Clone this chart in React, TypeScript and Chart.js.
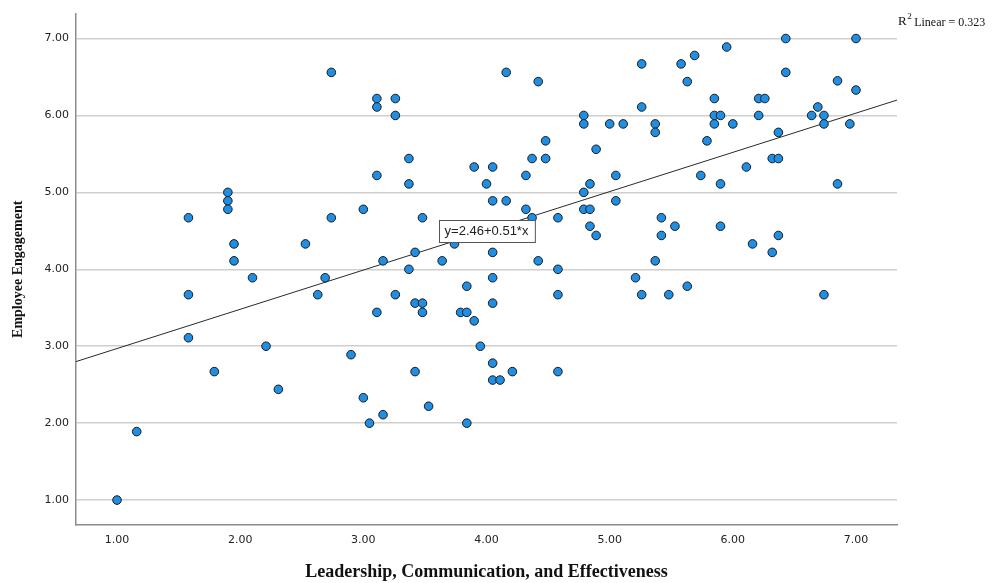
import React, { useEffect, useRef } from "react";
import { Chart, registerables } from "chart.js";

Chart.register(...registerables);

// Leadership, Communication, and Effectiveness (x) scores
const xValues: number[] = [
  1.0, 1.16, 1.58, 1.58, 1.58, 1.79, 1.9, 1.9, 1.9, 1.95,
  1.95, 2.1, 2.21, 2.31, 2.53, 2.63, 2.69, 2.74, 2.74, 2.9,
  3.0, 3.0, 3.05, 3.11, 3.11, 3.11, 3.11, 3.16, 3.16, 3.26,
  3.26, 3.26, 3.37, 3.37, 3.37, 3.42, 3.42, 3.42, 3.48, 3.48,
  3.48, 3.53, 3.64, 3.74, 3.79, 3.84, 3.84, 3.84, 3.9, 3.9,
  3.95, 4.0, 4.05, 4.05, 4.05, 4.05, 4.05, 4.05, 4.05, 4.11,
  4.16, 4.16, 4.21, 4.32, 4.32, 4.37, 4.37, 4.42, 4.42, 4.48,
  4.48, 4.58, 4.58, 4.58, 4.58, 4.79, 4.79, 4.79, 4.79, 4.84,
  4.84, 4.84, 4.89, 4.89, 5.0, 5.05, 5.05, 5.11, 5.21, 5.26,
  5.26, 5.26, 5.37, 5.37, 5.37, 5.42, 5.42, 5.48, 5.53, 5.58,
  5.63, 5.63, 5.69, 5.74, 5.79, 5.85, 5.85, 5.85, 5.9, 5.9,
  5.9, 5.95, 6.0, 6.11, 6.16, 6.21, 6.21, 6.26, 6.32, 6.32,
  6.37, 6.37, 6.37, 6.43, 6.43, 6.64, 6.69, 6.74, 6.74, 6.74,
  6.85, 6.85, 6.95, 7.0, 7.0,
];

// Employee Engagement (y) scores
const yValues: number[] = [
  1.0, 1.89, 4.67, 3.67, 3.11, 2.67, 5.0, 4.89, 4.78, 4.33,
  4.11, 3.89, 3.0, 2.44, 4.33, 3.67, 3.89, 6.56, 4.67, 2.89,
  4.78, 2.33, 2.0, 6.22, 6.11, 5.22, 3.44, 4.11, 2.11, 6.22,
  6.0, 3.67, 5.44, 5.11, 4.0, 4.22, 3.56, 2.67, 4.67, 3.56,
  3.44, 2.22, 4.11, 4.33, 3.44, 3.78, 3.44, 2.0, 5.33, 3.33,
  3.0, 5.11, 5.33, 4.89, 4.22, 3.89, 3.56, 2.78, 2.56, 2.56,
  6.56, 4.89, 2.67, 5.22, 4.78, 5.44, 4.67, 6.44, 4.11, 5.67,
  5.44, 4.67, 4.0, 3.67, 2.67, 6.0, 5.89, 5.0, 4.78, 5.11,
  4.78, 4.56, 5.56, 4.44, 5.89, 5.22, 4.89, 5.89, 3.89, 6.67,
  6.11, 3.67, 5.89, 5.78, 4.11, 4.67, 4.44, 3.67, 4.56, 6.67,
  6.44, 3.78, 6.78, 5.22, 5.67, 6.22, 6.0, 5.89, 6.0, 5.11,
  4.56, 6.89, 5.89, 5.33, 4.33, 6.22, 6.0, 6.22, 5.44, 4.22,
  5.78, 5.44, 4.44, 7.0, 6.56, 6.0, 6.11, 6.0, 5.89, 3.67,
  6.45, 5.11, 5.89, 7.0, 6.33,
];

const tickValues: number[] = [1, 2, 3, 4, 5, 6, 7];
const xAxisMin = 0.667;
const xAxisMax = 7.333;
const yAxisMin = 0.676;
const yAxisMax = 7.324;

const fitIntercept = 2.46;
const fitSlope = 0.51;
const fitLabel = "y=2.46+0.51*x";
const fitLabelAt = 4.0;
const r2Text = "0.323";

const xTitle = "Leadership, Communication, and Effectiveness";
const yTitle = "Employee Engagement";

export default function App() {
  const ref = useRef<HTMLCanvasElement | null>(null);

  useEffect(() => {
    const canvas = ref.current;
    if (!canvas) return;

    const points = xValues.map((x, i) => ({ x, y: yValues[i] }));
    const fitLine = [xAxisMin, xAxisMax].map((x) => ({ x, y: fitIntercept + fitSlope * x }));

    const annotations = {
      id: "fitAnnotations",
      afterDatasetsDraw(chart: any) {
        const { ctx, chartArea, scales } = chart;
        const xs = scales.x;
        const ys = scales.y;
        ctx.save();
        // equation box
        const px = xs.getPixelForValue(fitLabelAt);
        const py = ys.getPixelForValue(fitIntercept + fitSlope * fitLabelAt);
        ctx.font = "13px 'Liberation Sans', Arial, sans-serif";
        const tw = ctx.measureText(fitLabel).width;
        const bw = tw + 12;
        const bh = 22;
        const bx = Math.round(px - bw / 2) + 0.5;
        const by = Math.round(py - bh / 2) + 0.5;
        ctx.fillStyle = "#ffffff";
        ctx.fillRect(bx, by, bw, bh);
        ctx.strokeStyle = "#555555";
        ctx.lineWidth = 1;
        ctx.strokeRect(bx, by, bw, bh);
        ctx.fillStyle = "#222222";
        ctx.textAlign = "center";
        ctx.textBaseline = "middle";
        ctx.fillText(fitLabel, px, py + 1);

        // R^2 text
        const rx = chartArea.right + 1;
        const ry = chartArea.top + 8;
        ctx.textAlign = "left";
        ctx.textBaseline = "middle";
        ctx.font = "13px 'Liberation Serif', 'Times New Roman', serif";
        ctx.fillStyle = "#111111";
        ctx.fillText("R", rx, ry);
        let cx = rx + ctx.measureText("R").width;
        ctx.font = "9px 'Liberation Serif', 'Times New Roman', serif";
        ctx.fillText("2", cx + 0.5, ry - 5);
        cx += ctx.measureText("2").width + 3;
        ctx.font = "12px 'Liberation Serif', 'Times New Roman', serif";
        ctx.fillText("Linear = " + r2Text, cx, ry + 1);
        ctx.restore();
      },
    };

    const chart = new Chart(canvas, {
      type: "scatter",
      data: {
        datasets: [
          {
            type: "scatter",
            label: "Employee Engagement",
            data: points,
            backgroundColor: "#1f8fe6",
            borderColor: "#1a1a1a",
            borderWidth: 1,
            pointRadius: 4.3,
          },
          {
            type: "line",
            label: "Fit",
            data: fitLine,
            borderColor: "#2a2a2a",
            borderWidth: 1,
            pointRadius: 0,
            fill: false,
          },
        ],
      } as any,
      options: {
        responsive: false,
        animation: false,
        layout: { padding: { left: 0, top: 12, right: 107, bottom: 0 } },
        plugins: {
          legend: { display: false },
          tooltip: { enabled: false },
        },
        scales: {
          x: {
            type: "linear",
            min: xAxisMin,
            max: xAxisMax,
            afterBuildTicks: (scale: any) => {
              scale.ticks = tickValues.map((v) => ({ value: v }));
            },
            afterFit: (scale: any) => {
              scale.height = 58;
            },
            grid: { display: false, drawTicks: false },
            border: { display: true, color: "#8c8c8c", width: 1.5 },
            ticks: {
              padding: 9,
              color: "#222222",
              font: { family: "'DejaVu Sans', sans-serif", size: 11 },
              callback: (v: any) => Number(v).toFixed(2),
              maxRotation: 0,
            },
            title: {
              display: true,
              text: xTitle,
              color: "#111111",
              font: { family: "'Liberation Serif', 'Times New Roman', serif", size: 18, weight: "bold" },
              padding: { top: 0, bottom: 0 },
            },
          },
          y: {
            type: "linear",
            min: yAxisMin,
            max: yAxisMax,
            afterBuildTicks: (scale: any) => {
              scale.ticks = tickValues.map((v) => ({ value: v }));
            },
            afterFit: (scale: any) => {
              scale.width = 76;
            },
            grid: { display: true, drawTicks: false, color: "#cfcfcf", lineWidth: 1.5 },
            border: { display: true, color: "#8c8c8c", width: 1.5 },
            ticks: {
              padding: 7,
              color: "#222222",
              font: { family: "'DejaVu Sans', sans-serif", size: 11 },
              callback: (v: any) => Number(v).toFixed(2),
            },
            title: {
              display: true,
              text: yTitle,
              color: "#111111",
              font: { family: "'Liberation Serif', 'Times New Roman', serif", size: 14, weight: "bold" },
              padding: { top: 10, bottom: 0 },
            },
          },
        },
      } as any,
      plugins: [annotations],
    });

    return () => chart.destroy();
  }, []);

  return (
    <div style={{ position: "fixed", left: 0, top: 0, width: 1004, height: 583, background: "#ffffff" }}>
      <canvas ref={ref} width={1004} height={583} style={{ display: "block" }} />
    </div>
  );
}
